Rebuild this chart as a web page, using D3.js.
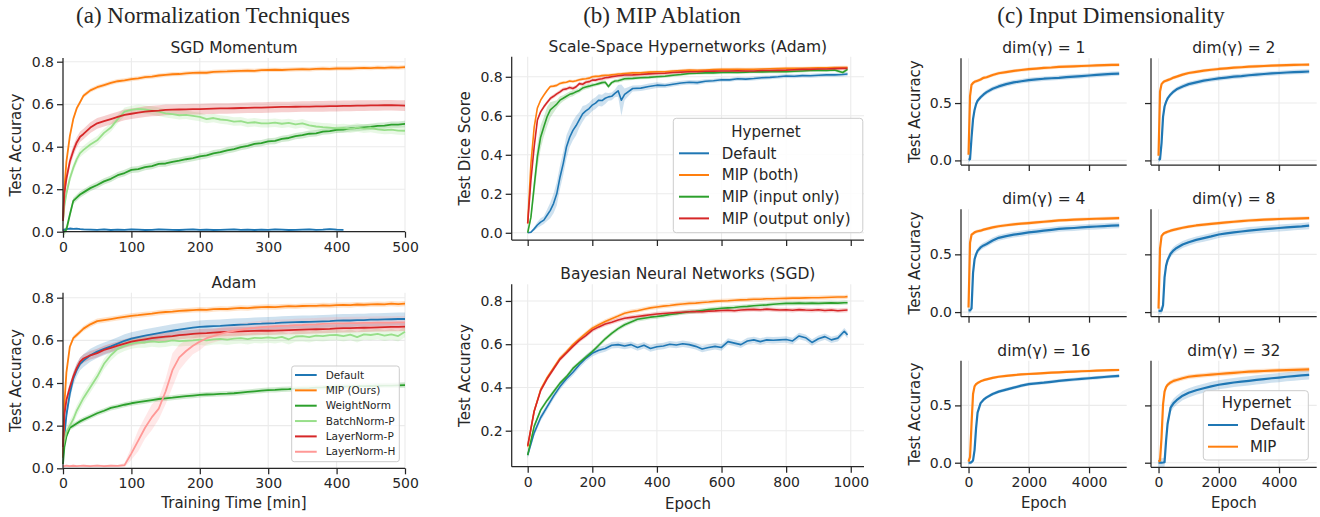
<!DOCTYPE html>
<html><head><meta charset="utf-8">
<script src="https://cdn.jsdelivr.net/npm/d3@7"></script>
<style>body{margin:0;background:#fff}</style>
</head><body>
<script>
// ---------------- DATA ----------------
// (a) Normalization techniques, x = training time [min]
const aX = [0,2,5,10,15,20,25,30,40,50,60,70,80,90,100,110,120,130,140,150,160,170,180,190,200,210,220,230,240,250,260,270,280,290,300,310,320,330,340,350,360,370,380,390,400,410,420,430,440,450,460,470,480,490,500];
const aTicksX = [0,100,200,300,400,500];
const aTicksY = [0.0,0.2,0.4,0.6,0.8];
const aLegend = ["Default","MIP (Ours)","WeightNorm","BatchNorm-P","LayerNorm-P","LayerNorm-H"];

const sgdDefault = [0.005,0.010,0.012,0.015,0.013,0.014,0.012,0.011,0.010,0.009,0.011,0.008,0.010,0.009,0.011,0.010,0.008,0.009,0.011,0.010,0.009,0.008,0.010,0.011,0.009,0.010,0.008,0.009,0.010,0.011,0.009,0.010,0.008,0.010,0.009,0.011,0.010,0.008,0.009,0.010,0.011,0.009,0.010,0.012,0.010,0.009];
const sgdMIP = [0.05,0.20,0.33,0.45,0.53,0.58,0.61,0.64,0.665,0.68,0.69,0.70,0.708,0.712,0.718,0.722,0.727,0.730,0.735,0.738,0.741,0.742,0.745,0.747,0.749,0.748,0.752,0.753,0.754,0.756,0.757,0.758,0.757,0.760,0.761,0.762,0.761,0.763,0.764,0.765,0.764,0.766,0.767,0.766,0.768,0.769,0.768,0.770,0.771,0.770,0.772,0.771,0.773,0.772,0.774];
const sgdWN = [0.0,0.0,0.01,0.08,0.145,0.16,0.175,0.185,0.205,0.22,0.237,0.249,0.266,0.276,0.291,0.294,0.304,0.309,0.319,0.321,0.329,0.334,0.341,0.346,0.354,0.359,0.369,0.374,0.383,0.389,0.398,0.404,0.413,0.417,0.425,0.427,0.437,0.441,0.450,0.454,0.461,0.463,0.471,0.473,0.479,0.481,0.486,0.488,0.491,0.493,0.498,0.499,0.504,0.504,0.507];
const sgdBN = [0.05,0.12,0.18,0.25,0.30,0.34,0.37,0.385,0.41,0.43,0.465,0.49,0.53,0.565,0.573,0.578,0.575,0.57,0.565,0.557,0.553,0.548,0.55,0.545,0.54,0.53,0.535,0.528,0.525,0.518,0.52,0.512,0.515,0.51,0.51,0.513,0.508,0.512,0.505,0.51,0.50,0.495,0.492,0.49,0.486,0.488,0.484,0.49,0.485,0.488,0.482,0.478,0.48,0.476,0.475];
const sgdLN = [0.05,0.18,0.25,0.33,0.38,0.42,0.447,0.46,0.49,0.51,0.52,0.53,0.54,0.55,0.555,0.56,0.565,0.568,0.57,0.573,0.574,0.575,0.576,0.577,0.577,0.578,0.579,0.58,0.58,0.581,0.582,0.583,0.584,0.584,0.585,0.586,0.587,0.587,0.588,0.589,0.589,0.59,0.59,0.591,0.591,0.592,0.592,0.593,0.593,0.594,0.594,0.595,0.595,0.594,0.593];

const adamDefault = [0.05,0.15,0.25,0.35,0.42,0.46,0.49,0.505,0.53,0.547,0.56,0.572,0.585,0.598,0.608,0.615,0.622,0.628,0.634,0.64,0.645,0.65,0.655,0.66,0.663,0.665,0.667,0.668,0.67,0.672,0.674,0.675,0.677,0.678,0.68,0.681,0.683,0.684,0.685,0.686,0.687,0.688,0.689,0.69,0.692,0.693,0.693,0.695,0.695,0.697,0.697,0.698,0.699,0.70,0.70];
const adamMIP = [0.05,0.30,0.45,0.57,0.61,0.625,0.64,0.655,0.675,0.69,0.695,0.70,0.705,0.71,0.715,0.718,0.722,0.725,0.73,0.733,0.735,0.738,0.74,0.742,0.744,0.743,0.746,0.748,0.747,0.75,0.752,0.751,0.754,0.756,0.757,0.756,0.758,0.76,0.759,0.761,0.762,0.762,0.764,0.763,0.765,0.766,0.765,0.768,0.767,0.769,0.77,0.769,0.772,0.77,0.772];
const adamWN = [0.02,0.10,0.15,0.19,0.20,0.21,0.22,0.228,0.243,0.258,0.27,0.283,0.29,0.298,0.305,0.31,0.315,0.32,0.325,0.328,0.331,0.335,0.338,0.341,0.344,0.346,0.347,0.349,0.35,0.352,0.355,0.358,0.361,0.364,0.367,0.368,0.37,0.371,0.373,0.375,0.376,0.378,0.379,0.381,0.383,0.383,0.384,0.385,0.385,0.386,0.387,0.388,0.388,0.389,0.39];
const adamBN = [0.10,0.13,0.17,0.20,0.23,0.27,0.30,0.33,0.38,0.43,0.49,0.53,0.56,0.575,0.585,0.59,0.59,0.595,0.592,0.594,0.60,0.596,0.598,0.60,0.603,0.60,0.605,0.607,0.603,0.608,0.61,0.606,0.612,0.61,0.614,0.61,0.616,0.605,0.618,0.62,0.615,0.622,0.62,0.624,0.625,0.62,0.627,0.615,0.628,0.625,0.63,0.622,0.628,0.62,0.64];
const adamLNP = [0.10,0.25,0.32,0.38,0.43,0.47,0.50,0.515,0.53,0.54,0.555,0.565,0.575,0.585,0.594,0.60,0.605,0.61,0.614,0.617,0.62,0.624,0.627,0.63,0.633,0.634,0.636,0.638,0.64,0.641,0.642,0.643,0.644,0.645,0.645,0.646,0.647,0.648,0.649,0.65,0.651,0.652,0.653,0.654,0.656,0.657,0.657,0.658,0.659,0.66,0.661,0.662,0.663,0.663,0.664];
const adamLNH = [0.01,0.01,0.012,0.01,0.012,0.01,0.011,0.012,0.01,0.013,0.01,0.012,0.011,0.015,0.07,0.13,0.19,0.24,0.28,0.36,0.46,0.52,0.55,0.575,0.594,0.61,0.62,0.63,0.638,0.645,0.65,0.655,0.658,0.662,0.664,0.666,0.668,0.669,0.671,0.672,0.674,0.675,0.677,0.678,0.68,0.68,0.681,0.681,0.682,0.682,0.683,0.683,0.683,0.684,0.684];
const adamLNHSpread = [0.005,0.005,0.005,0.005,0.005,0.005,0.005,0.005,0.005,0.005,0.005,0.005,0.005,0.01,0.03,0.05,0.05,0.06,0.05,0.06,0.08,0.06,0.05,0.04,0.04,0.03,0.03,0.03,0.03,0.03,0.03,0.03,0.03,0.03,0.03,0.03,0.03,0.03,0.03,0.03,0.03,0.03,0.03,0.03,0.03,0.03,0.03,0.03,0.03,0.03,0.03,0.03,0.03,0.03,0.03];

// (b) MIP ablation, x = epoch
const b1X = [0,10,20,30,40,50,60,70,80,90,100,110,120,130,140,150,160,170,180,190,200,210,220,230,240,250,260,270,280,290,300,325,350,375,400,425,450,475,500,525,550,575,600,625,650,675,700,725,750,775,800,825,850,875,900,925,950,975,990];
const bTicksX = [0,200,400,600,800,1000];
const b1TicksY = [0.0,0.2,0.4,0.6,0.8];
const b2TicksY = [0.2,0.4,0.6,0.8];
const bLegend = ["Default","MIP (both)","MIP (input only)","MIP (output only)"];
const b1Default = [0.0,0.003,0.02,0.04,0.055,0.065,0.09,0.115,0.15,0.2,0.285,0.355,0.44,0.49,0.525,0.55,0.58,0.61,0.625,0.637,0.655,0.665,0.68,0.678,0.69,0.697,0.70,0.715,0.728,0.68,0.71,0.74,0.742,0.75,0.757,0.755,0.762,0.768,0.772,0.77,0.777,0.78,0.785,0.784,0.79,0.788,0.791,0.795,0.797,0.80,0.804,0.803,0.806,0.805,0.808,0.81,0.81,0.812,0.814];
const b1DefaultSpread = [0,0.005,0.01,0.015,0.02,0.02,0.03,0.04,0.05,0.06,0.06,0.06,0.06,0.05,0.05,0.05,0.04,0.04,0.03,0.03,0.03,0.03,0.03,0.03,0.03,0.02,0.02,0.02,0.03,0.08,0.03,0.015,0.015,0.015,0.015,0.012,0.012,0.012,0.012,0.012,0.01,0.01,0.01,0.01,0.01,0.01,0.01,0.01,0.01,0.01,0.01,0.01,0.01,0.01,0.01,0.01,0.01,0.01,0.01];
const b1Both = [0.048,0.355,0.54,0.64,0.68,0.706,0.73,0.75,0.752,0.756,0.766,0.77,0.772,0.778,0.776,0.78,0.785,0.788,0.79,0.793,0.80,0.802,0.803,0.806,0.808,0.808,0.81,0.812,0.814,0.815,0.817,0.82,0.82,0.824,0.826,0.826,0.83,0.832,0.834,0.833,0.835,0.837,0.838,0.838,0.839,0.838,0.839,0.84,0.841,0.842,0.843,0.843,0.844,0.845,0.846,0.846,0.847,0.848,0.848];
const b1Input = [0.0,0.08,0.236,0.39,0.49,0.544,0.595,0.63,0.645,0.66,0.68,0.69,0.70,0.71,0.715,0.723,0.73,0.742,0.748,0.752,0.757,0.76,0.765,0.77,0.772,0.75,0.77,0.778,0.78,0.785,0.79,0.792,0.795,0.797,0.80,0.803,0.808,0.812,0.817,0.818,0.82,0.82,0.822,0.823,0.822,0.824,0.826,0.825,0.826,0.826,0.826,0.828,0.83,0.832,0.834,0.832,0.835,0.822,0.838];
const b1InputSpread = [0,0.02,0.05,0.06,0.06,0.05,0.05,0.04,0.03,0.02,0.02,0.015,0.015,0.015,0.015,0.012,0.012,0.012,0.012,0.012,0.01,0.01,0.01,0.01,0.01,0.01,0.01,0.01,0.01,0.01,0.01,0.008,0.008,0.008,0.008,0.008,0.008,0.008,0.008,0.008,0.008,0.008,0.008,0.008,0.008,0.008,0.008,0.008,0.008,0.008,0.008,0.008,0.008,0.008,0.008,0.008,0.008,0.008,0.008];
const b1Output = [0.048,0.27,0.44,0.578,0.62,0.646,0.668,0.689,0.70,0.712,0.723,0.735,0.738,0.745,0.74,0.749,0.765,0.762,0.772,0.775,0.783,0.783,0.787,0.79,0.795,0.797,0.80,0.803,0.805,0.807,0.809,0.81,0.812,0.815,0.817,0.818,0.822,0.824,0.826,0.826,0.828,0.829,0.83,0.83,0.831,0.83,0.83,0.832,0.832,0.833,0.834,0.836,0.838,0.838,0.84,0.84,0.842,0.843,0.843];

const b2X = [0,20,40,60,80,100,120,140,160,180,200,220,240,260,280,300,320,340,360,380,400,420,440,460,480,500,520,540,560,580,600,620,640,660,680,700,720,740,760,780,800,820,840,860,880,900,920,940,960,980,990];
const b2Default = [0.087,0.19,0.26,0.31,0.36,0.404,0.44,0.47,0.505,0.535,0.558,0.572,0.58,0.595,0.598,0.592,0.598,0.585,0.595,0.58,0.588,0.592,0.60,0.596,0.602,0.598,0.59,0.578,0.585,0.59,0.585,0.612,0.605,0.598,0.615,0.62,0.612,0.62,0.618,0.62,0.622,0.615,0.638,0.63,0.608,0.625,0.635,0.62,0.628,0.66,0.643];
const b2Both = [0.126,0.29,0.39,0.445,0.49,0.535,0.565,0.598,0.625,0.65,0.674,0.69,0.705,0.718,0.73,0.743,0.75,0.755,0.762,0.768,0.772,0.776,0.779,0.783,0.786,0.789,0.79,0.793,0.795,0.798,0.80,0.801,0.803,0.805,0.806,0.808,0.808,0.81,0.81,0.811,0.812,0.813,0.813,0.814,0.815,0.815,0.816,0.817,0.818,0.818,0.82];
const b2Input = [0.087,0.22,0.295,0.34,0.38,0.42,0.45,0.488,0.515,0.54,0.566,0.595,0.625,0.65,0.672,0.69,0.703,0.715,0.72,0.725,0.728,0.732,0.737,0.741,0.746,0.75,0.752,0.756,0.76,0.763,0.766,0.768,0.77,0.773,0.775,0.778,0.78,0.782,0.785,0.787,0.789,0.789,0.79,0.789,0.79,0.789,0.79,0.791,0.79,0.792,0.792];
const b2Output = [0.13,0.29,0.385,0.44,0.485,0.53,0.56,0.59,0.618,0.64,0.665,0.68,0.693,0.702,0.712,0.72,0.724,0.728,0.732,0.736,0.74,0.742,0.744,0.746,0.748,0.75,0.751,0.75,0.753,0.754,0.756,0.757,0.755,0.758,0.76,0.761,0.759,0.762,0.76,0.758,0.759,0.757,0.76,0.758,0.757,0.759,0.756,0.758,0.755,0.757,0.758];

// (c) Input dimensionality, x = epoch
const cX = [0,50,100,150,200,250,300,400,500,600,800,1000,1250,1500,1750,2000,2250,2500,2750,3000,3250,3500,3750,4000,4250,4500,4750,5000];
const cTicksX = [0,2000,4000];
const cTicksY = [0.0,0.5];
const cTitles = ["dim(γ) = 1","dim(γ) = 2","dim(γ) = 4","dim(γ) = 8","dim(γ) = 16","dim(γ) = 32"];
const cLegend = ["Default","MIP"];
const cDefault = [
  [0.005,0.01,0.2,0.36,0.44,0.49,0.52,0.55,0.575,0.595,0.625,0.645,0.665,0.68,0.69,0.70,0.706,0.712,0.716,0.72,0.726,0.73,0.735,0.74,0.745,0.75,0.754,0.757],
  [0.005,0.01,0.15,0.38,0.47,0.51,0.54,0.575,0.60,0.62,0.645,0.665,0.68,0.695,0.705,0.715,0.722,0.73,0.735,0.742,0.748,0.753,0.758,0.762,0.766,0.77,0.772,0.775],
  [0.014,0.015,0.03,0.34,0.457,0.50,0.53,0.56,0.577,0.59,0.62,0.643,0.658,0.67,0.68,0.69,0.697,0.705,0.712,0.72,0.724,0.728,0.733,0.737,0.741,0.745,0.748,0.751],
  [0.01,0.01,0.012,0.06,0.3,0.4,0.45,0.505,0.535,0.555,0.585,0.605,0.625,0.64,0.655,0.672,0.682,0.69,0.698,0.706,0.712,0.718,0.723,0.728,0.733,0.738,0.742,0.748],
  [0.0,0.0,0.005,0.02,0.11,0.3,0.437,0.52,0.55,0.57,0.6,0.62,0.638,0.655,0.672,0.686,0.692,0.698,0.706,0.714,0.72,0.726,0.732,0.737,0.742,0.748,0.753,0.757],
  [0.0,0.0,0.0,0.002,0.005,0.19,0.34,0.48,0.52,0.545,0.585,0.61,0.632,0.65,0.666,0.68,0.69,0.70,0.707,0.714,0.722,0.73,0.737,0.743,0.75,0.756,0.762,0.766]
];
const cMIP = [
  [0.05,0.56,0.66,0.675,0.685,0.69,0.695,0.705,0.72,0.725,0.745,0.76,0.77,0.78,0.788,0.795,0.80,0.806,0.81,0.816,0.818,0.82,0.823,0.825,0.828,0.83,0.832,0.833],
  [0.04,0.6,0.665,0.68,0.69,0.695,0.70,0.71,0.722,0.73,0.748,0.762,0.772,0.782,0.79,0.797,0.802,0.808,0.812,0.817,0.82,0.823,0.826,0.828,0.83,0.832,0.834,0.835],
  [0.04,0.6,0.67,0.68,0.69,0.695,0.70,0.705,0.714,0.72,0.733,0.743,0.752,0.76,0.766,0.771,0.776,0.782,0.788,0.794,0.797,0.80,0.803,0.806,0.808,0.81,0.812,0.814],
  [0.03,0.55,0.657,0.675,0.685,0.69,0.695,0.705,0.712,0.718,0.73,0.74,0.75,0.757,0.764,0.77,0.776,0.782,0.788,0.793,0.797,0.80,0.803,0.806,0.808,0.81,0.812,0.814],
  [0.01,0.05,0.34,0.6,0.666,0.685,0.695,0.71,0.72,0.727,0.74,0.75,0.757,0.764,0.77,0.774,0.778,0.782,0.786,0.789,0.792,0.795,0.798,0.80,0.803,0.805,0.807,0.809],
  [0.01,0.02,0.22,0.51,0.62,0.66,0.68,0.70,0.714,0.722,0.737,0.75,0.757,0.763,0.769,0.774,0.779,0.784,0.789,0.794,0.797,0.80,0.803,0.806,0.808,0.81,0.812,0.814]
];
const cDefaultSpread = [0.02,0.02,0.025,0.03,0.015,0.04];
const cMIPSpread = [0.015,0.015,0.015,0.015,0.012,0.02];

// ---------------- DRAWING ----------------
const W = 1320, H = 517;
const FONT = "'DejaVu Sans', Verdana, sans-serif";
const SERIF = "'Liberation Serif', 'Times New Roman', serif";
const INK = '#262626';
const COL = {blue:'#1f77b4', orange:'#ff7f0e', green:'#2ca02c', lgreen:'#98df8a', red:'#d62728', pink:'#ff9896'};

const svg = d3.select('body').append('svg').attr('width', W).attr('height', H)
  .style('background', '#fff');

function txt(x, y, s, size, opts = {}) {
  const t = svg.append('text').attr('x', x).attr('y', y).text(s)
    .attr('font-family', opts.family || FONT).attr('font-size', size)
    .attr('fill', INK).attr('text-anchor', opts.anchor || 'middle');
  return t;
}
function ylabel(x, cy, s) {
  svg.append('text').attr('transform', `translate(${x},${cy}) rotate(-90)`)
    .attr('text-anchor', 'middle').attr('font-family', FONT).attr('font-size', 15)
    .attr('fill', INK).text(s);
}

function panel(p) {
  const x = d3.scaleLinear().domain(p.xd).range([p.l, p.r]);
  const y = d3.scaleLinear().domain(p.yd).range([p.b, p.t]);
  const g = svg.append('g');
  // grid
  g.append('g').selectAll('line').data(p.xt).join('line')
    .attr('x1', d => x(d)).attr('x2', d => x(d)).attr('y1', p.t).attr('y2', p.b)
    .attr('stroke', '#ebebeb').attr('stroke-width', 1.1);
  g.append('g').selectAll('line').data(p.yt).join('line')
    .attr('y1', d => y(d)).attr('y2', d => y(d)).attr('x1', p.l).attr('x2', p.r)
    .attr('stroke', '#ebebeb').attr('stroke-width', 1.1);
  const prepared = p.series.map(s => {
    const n = Math.min(s.x.length, s.y.length);
    return {s, pts: d3.range(n).map(i => ({x: s.x[i], v: s.y[i], sp: Array.isArray(s.sp) ? s.sp[i] : s.sp}))};
  });
  const area = d3.area().x(d => x(d.x)).y0(d => y(d.v - d.sp)).y1(d => y(d.v + d.sp));
  const line = d3.line().x(d => x(d.x)).y(d => y(d.v));
  prepared.forEach(({s, pts}) => {
    g.append('path').datum(pts).attr('d', area).attr('fill', s.c).attr('fill-opacity', 0.22).attr('stroke', 'none');
  });
  prepared.forEach(({s, pts}) => {
    g.append('path').datum(pts).attr('d', line).attr('fill', 'none')
      .attr('stroke', s.c).attr('stroke-width', p.lw).attr('stroke-linejoin', 'round');
  });
  // axes
  const fx = p.xlab ? d3.format('d') : () => '';
  const fy = p.ylab ? d3.format('.1f') : () => '';
  const ax = g.append('g').attr('transform', `translate(0,${p.b})`)
    .call(d3.axisBottom(x).tickValues(p.xt).tickSize(6).tickSizeOuter(0).tickPadding(4).tickFormat(fx));
  const ay = g.append('g').attr('transform', `translate(${p.l},0)`)
    .call(d3.axisLeft(y).tickValues(p.yt).tickSize(6).tickSizeOuter(0).tickPadding(3).tickFormat(fy));
  [ax, ay].forEach(a => {
    a.attr('font-family', FONT).attr('font-size', 14).attr('color', INK);
    a.selectAll('line').attr('stroke', INK).attr('stroke-width', 1.25);
    a.selectAll('path').attr('stroke', INK).attr('stroke-width', 1.25);
    a.selectAll('text').attr('fill', INK);
  });
  // custom spine extents (domain path)
  ax.select('.domain').attr('d', `M${p.l},0H${p.r}`);
  ay.select('.domain').attr('d', `M0,${p.b}V${p.t}`);
  if (p.title) txt((p.l + p.r) / 2, p.t - 5, p.title, 15.5);
  return {x, y};
}

// headers
txt(213, 23, '(a) Normalization Techniques', 23, {family: SERIF});
txt(662, 23, '(b) MIP Ablation', 23, {family: SERIF});
txt(1111, 23, '(c) Input Dimensionality', 23, {family: SERIF});

// ---- (a) top: SGD Momentum
panel({l: 63, r: 405, t: 58, b: 231.7, xd: [0, 500], yd: [0, 0.8174], xt: aTicksX, yt: aTicksY,
  xlab: true, ylab: true, lw: 1.8, title: 'SGD Momentum',
  series: [
    {x: aX, y: sgdDefault, sp: 0.004, c: COL.blue},
    {x: aX, y: sgdMIP, sp: 0.01, c: COL.orange},
    {x: aX, y: sgdWN, sp: 0.015, c: COL.green},
    {x: aX, y: sgdBN, sp: 0.02, c: COL.lgreen},
    {x: aX, y: sgdLN, sp: 0.025, c: COL.red}
  ]});
ylabel(21, 145, 'Test Accuracy');

// ---- (a) bottom: Adam
panel({l: 63, r: 405, t: 292.7, b: 468.3, xd: [0, 500], yd: [0, 0.8234], xt: aTicksX, yt: aTicksY,
  xlab: true, ylab: true, lw: 1.8, title: 'Adam',
  series: [
    {x: aX, y: adamDefault, sp: 0.03, c: COL.blue},
    {x: aX, y: adamMIP, sp: 0.012, c: COL.orange},
    {x: aX, y: adamWN, sp: 0.012, c: COL.green},
    {x: aX, y: adamBN, sp: 0.025, c: COL.lgreen},
    {x: aX, y: adamLNP, sp: 0.02, c: COL.red},
    {x: aX, y: adamLNH, sp: adamLNHSpread, c: COL.pink}
  ]});
ylabel(21, 380.5, 'Test Accuracy');
txt(234, 508, 'Training Time [min]', 15);

// legend (a)
(function() {
  const cols = [COL.blue, COL.orange, COL.green, COL.lgreen, COL.red, COL.pink];
  svg.append('rect').attr('x', 291.7).attr('y', 366).attr('width', 107.6).attr('height', 95.7)
    .attr('rx', 2.5).attr('fill', '#fff').attr('fill-opacity', 0.85).attr('stroke', '#cccccc').attr('stroke-width', 1);
  aLegend.forEach((name, i) => {
    const cy = 375 + i * 15.35;
    svg.append('line').attr('x1', 295).attr('x2', 316.7).attr('y1', cy).attr('y2', cy)
      .attr('stroke', cols[i]).attr('stroke-width', 2);
    txt(325.7, cy + 3.7, name, 10.5, {anchor: 'start'});
  });
})();

// ---- (b) top: Scale-Space Hypernetworks
const bCols = [COL.blue, COL.orange, COL.green, COL.red];
panel({l: 511.7, r: 864, t: 56.7, b: 240, xd: [-49.5, 1041], yd: [-0.037, 0.903], xt: bTicksX, yt: b1TicksY,
  xlab: false, ylab: true, lw: 1.6, title: 'Scale-Space Hypernetworks (Adam)',
  series: [
    {x: b1X, y: b1Default, sp: b1DefaultSpread, c: COL.blue},
    {x: b1X, y: b1Both, sp: 0.008, c: COL.orange},
    {x: b1X, y: b1Input, sp: b1InputSpread, c: COL.green},
    {x: b1X, y: b1Output, sp: 0.01, c: COL.red}
  ]});
ylabel(469.5, 148.3, 'Test Dice Score');

// ---- (b) bottom: Bayesian Neural Networks
panel({l: 511.7, r: 864, t: 284.3, b: 466.7, xd: [-49.5, 1041], yd: [0.0335, 0.877], xt: bTicksX, yt: b2TicksY,
  xlab: true, ylab: true, lw: 1.6, title: 'Bayesian Neural Networks (SGD)',
  series: [
    {x: b2X, y: b2Default, sp: 0.015, c: COL.blue},
    {x: b2X, y: b2Both, sp: 0.01, c: COL.orange},
    {x: b2X, y: b2Input, sp: 0.01, c: COL.green},
    {x: b2X, y: b2Output, sp: 0.01, c: COL.red}
  ]});
ylabel(469.5, 375.5, 'Test Accuracy');
txt(688, 509, 'Epoch', 15);

// legend (b)
(function() {
  svg.append('rect').attr('x', 673.3).attr('y', 118.3).attr('width', 189.5).attr('height', 114.4)
    .attr('rx', 3).attr('fill', '#fff').attr('fill-opacity', 0.85).attr('stroke', '#cccccc').attr('stroke-width', 1);
  txt(766, 136.7, 'Hypernet', 15);
  bLegend.forEach((name, i) => {
    const cy = 153.3 + i * 21.7;
    svg.append('line').attr('x1', 679).attr('x2', 709).attr('y1', cy).attr('y2', cy)
      .attr('stroke', bCols[i]).attr('stroke-width', 2);
    txt(721.7, cy + 5.3, name, 15, {anchor: 'start'});
  });
})();

// ---- (c) grid of 6
const cCols = [[961, 1126.7], [1151, 1316.7]];
const cRows = [[58.3, 165], [209.3, 316.7], [360.7, 467.3]];
cTitles.forEach((title, k) => {
  const row = Math.floor(k / 2), col = k % 2;
  panel({l: cCols[col][0], r: cCols[col][1], t: cRows[row][0], b: cRows[row][1],
    xd: [-250, 5250], yd: [-0.04, 0.89], xt: cTicksX, yt: cTicksY,
    xlab: row === 2, ylab: col === 0, lw: 2.2, title: title,
    series: [
      {x: cX, y: cDefault[k], sp: cDefaultSpread[k], c: COL.blue},
      {x: cX, y: cMIP[k], sp: cMIPSpread[k], c: COL.orange}
    ]});
  if (col === 0) ylabel(919.5, (cRows[row][0] + cRows[row][1]) / 2, 'Test Accuracy');
  if (row === 2) txt((cCols[col][0] + cCols[col][1]) / 2, 508, 'Epoch', 15);
});

// legend (c)
(function() {
  const cols = [COL.blue, COL.orange];
  svg.append('rect').attr('x', 1203.3).attr('y', 390.7).attr('width', 105).attr('height', 69.3)
    .attr('rx', 3).attr('fill', '#fff').attr('fill-opacity', 0.85).attr('stroke', '#cccccc').attr('stroke-width', 1);
  txt(1256.5, 408.3, 'Hypernet', 15);
  cLegend.forEach((name, i) => {
    const cy = 425 + i * 21.7;
    svg.append('line').attr('x1', 1208).attr('x2', 1238).attr('y1', cy).attr('y2', cy)
      .attr('stroke', cols[i]).attr('stroke-width', 2);
    txt(1250, cy + 5.3, name, 15, {anchor: 'start'});
  });
})();
</script>
</body></html>
